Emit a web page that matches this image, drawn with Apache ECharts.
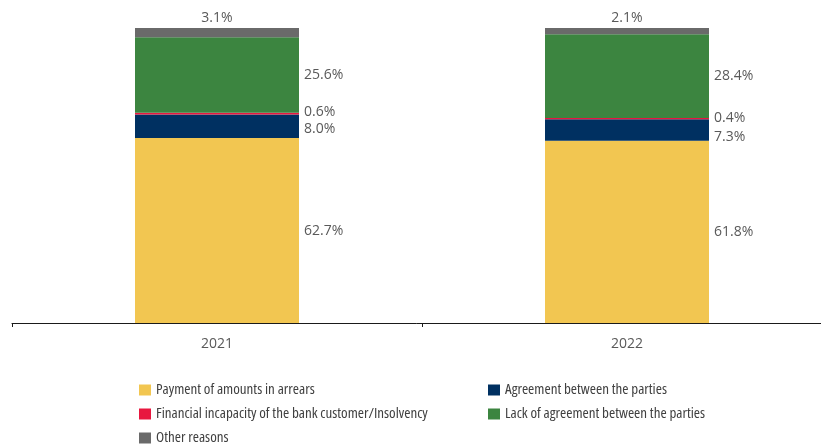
<!DOCTYPE html>
<html>
<head>
<meta charset="utf-8">
<style>
  html, body { margin: 0; padding: 0; background: #fff; }
  #chart { width: 821px; height: 445px; }
</style>
<script src="https://cdn.jsdelivr.net/npm/echarts@6/dist/echarts.min.js"></script>
</head>
<body>
<div id="chart"></div>
<script>
// Years on the category axis
const years = ['2021', '2022'];

// Share of each outcome (%) per year
const payment = [62.7, 61.8];
const agreement = [8.0, 7.3];
const incapacity = [0.6, 0.4];
const lackAgreement = [25.6, 28.4];
const otherReasons = [3.1, 2.1];

const seriesNames = [
  'Payment of amounts in arrears',
  'Agreement between the parties',
  'Financial incapacity of the bank customer/Insolvency',
  'Lack of agreement between the parties',
  'Other reasons'
];

const LABEL_COLOR = '#595959';
const LABEL_FONT = '"Open Sans", "Noto Sans", sans-serif';

function pct(p) { return p.value.toFixed(1) + '%'; }

// Builds one stacked bar series; yShift nudges side labels apart where segments are thin
function stackSeries(name, values, color, labelPos, yShift) {
  return {
    name: name,
    type: 'bar',
    stack: 'total',
    barWidth: 164,
    itemStyle: { color: color },
    label: {
      show: true,
      position: labelPos,
      distance: labelPos === 'top' ? 3 : 5,
      color: LABEL_COLOR,
      fontFamily: LABEL_FONT,
      fontSize: 14,
      formatter: pct
    },
    data: values.map((v, i) => ({
      value: v,
      label: { offset: [0, yShift ? yShift[i] : 0] }
    }))
  };
}

const chart = echarts.init(document.getElementById('chart'), null, { renderer: 'canvas' });

// Legend type: condensed Open Sans face via the font-stretch keyword
const legendText = {
  color: '#404040',
  fontFamily: '"Open Sans", sans-serif',
  fontWeight: 'condensed',
  fontSize: 15,
  lineHeight: 16
};

// One legend block per entry, laid out as two columns
function legendAt(name, left, top) {
  return {
    orient: 'horizontal', left: left, top: top, padding: 0,
    itemWidth: 12, itemHeight: 11, icon: 'rect',
    itemStyle: { borderWidth: 0 },
    textStyle: legendText,
    data: [name]
  };
}

chart.setOption({
  animation: false,
  grid: { left: 12, right: -11, top: 28, bottom: 122, containLabel: false, outerBoundsMode: 'none' },
  xAxis: {
    type: 'category',
    data: years,
    axisLine: { show: true, lineStyle: { color: '#1a1a1a', width: 1 } },
    axisTick: { show: true, length: 4, lineStyle: { color: '#1a1a1a' } },
    axisLabel: { color: LABEL_COLOR, fontFamily: LABEL_FONT, fontSize: 14, margin: 14 }
  },
  yAxis: { type: 'value', min: 0, max: 100, show: false },
  legend: [
    legendAt(seriesNames[0], 139, 382),
    legendAt(seriesNames[1], 488, 382),
    legendAt(seriesNames[2], 139, 406),
    legendAt(seriesNames[3], 488, 406),
    legendAt(seriesNames[4], 139, 430)
  ],
  series: [
    stackSeries(seriesNames[0], payment, '#F2C651', 'right'),
    stackSeries(seriesNames[1], agreement, '#003061', 'right', [3, 7]),
    stackSeries(seriesNames[2], incapacity, '#E8173F', 'right', [-2, -1]),
    stackSeries(seriesNames[3], lackAgreement, '#3C8540', 'right'),
    stackSeries(seriesNames[4], otherReasons, '#6A6A6A', 'top')
  ]
});
</script>
</body>
</html>
